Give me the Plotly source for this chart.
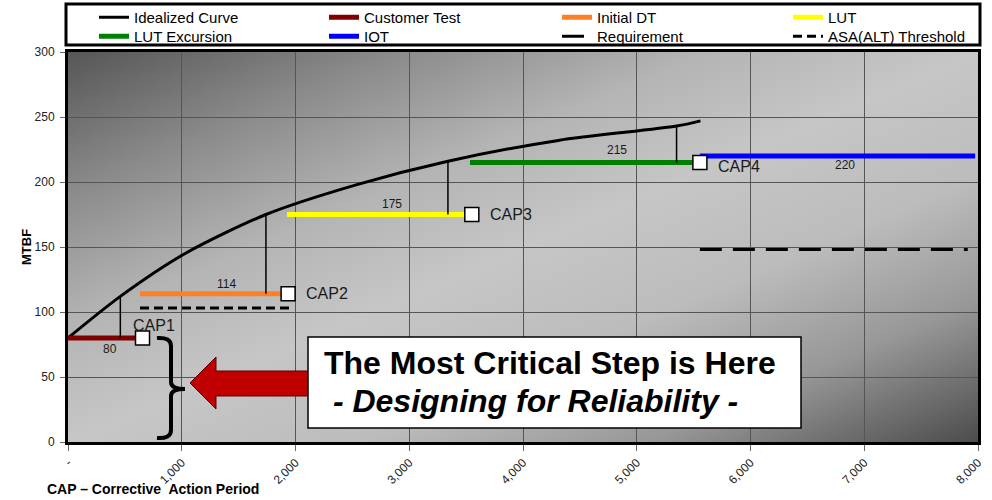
import base64
import plotly.graph_objects as go

# ---------------- data ----------------
curve_x = [0, 460, 1030, 1740, 2540, 3340, 4310, 5350, 5560]
curve_y = [80, 112, 145, 175, 198, 216, 232, 243, 247]

phase_names = ["Customer Test", "Initial DT", "LUT", "LUT Excursion", "IOT"]
phase_start = [0, 633, 1925, 3534, 5555]
phase_end = [655, 1935, 3550, 5555, 7975]
phase_mtbf = [80, 114, 175, 215, 220]
phase_colors = ["#7F0000", "#FF7F27", "#FFFF00", "#008000", "#0000FF"]
value_label_x = [366, 1390, 2845, 4826, 6830]

requirement_x = [5555, 7910]
requirement_y = [148, 148]
threshold_x = [633, 1950]
threshold_y = [103, 103]

cap_names = ["CAP1", "CAP2", "CAP3", "CAP4"]
cap_x = [655, 1935, 3550, 5555]
cap_y = [80, 114, 175, 215]

drop_x = [460, 1740, 3340, 5350]
drop_from = [80, 114, 175, 215]
drop_to = [112, 175, 216, 243]

x_ticks = [0, 1000, 2000, 3000, 4000, 5000, 6000, 7000, 8000]
x_ticktext = ["-", "1,000", "2,000", "3,000", "4,000", "5,000", "6,000", "7,000", "8,000"]
y_ticks = [0, 50, 100, 150, 200, 250, 300]

# ---------------- layout helpers (pixel -> paper) ----------------
W, H = 992, 500
PL, PR, PT, PB = 68, 978, 52, 442


def px(x):
    return (x - PL) / (PR - PL)


def py(y):
    return (PB - y) / (PB - PT)


FONT = "Arial, 'Liberation Sans', sans-serif"

# legend grid: 2 rows x 4 columns, one single-item legend per slot
LEG_COL_TEXT = [134, 364, 597, 828]
LEG_ROW_TOP = [1, 20]
legend_ids = ["legend"] + [f"legend{i}" for i in range(2, 9)]

fig = go.Figure()
slot = iter(legend_ids)

# Idealized curve
fig.add_trace(go.Scatter(x=curve_x, y=curve_y, mode="lines", name="Idealized Curve",
                         line=dict(color="black", width=3, shape="spline", smoothing=0.8),
                         hoverinfo="skip", legend=next(slot)))

# phase segments
for n, s, e, m, c in zip(phase_names, phase_start, phase_end, phase_mtbf, phase_colors):
    fig.add_trace(go.Scatter(x=[s, e], y=[m, m], mode="lines", name=n,
                             line=dict(color=c, width=5), hoverinfo="skip",
                             legend=next(slot)))

fig.add_trace(go.Scatter(x=requirement_x, y=requirement_y, mode="lines", name="Requirement",
                         line=dict(color="black", width=3, dash="22px,11px"), hoverinfo="skip",
                         legend=next(slot)))
fig.add_trace(go.Scatter(x=threshold_x, y=threshold_y, mode="lines", name="ASA(ALT) Threshold",
                         line=dict(color="black", width=3, dash="9px,5px"), hoverinfo="skip",
                         legend=next(slot)))

# drop lines
dx, dy = [], []
for x, a, b in zip(drop_x, drop_from, drop_to):
    dx += [x, x, None]
    dy += [a, b, None]
fig.add_trace(go.Scatter(x=dx, y=dy, mode="lines", showlegend=False,
                         line=dict(color="black", width=1.5), hoverinfo="skip"))

# CAP markers
fig.add_trace(go.Scatter(x=cap_x, y=cap_y, mode="markers", showlegend=False,
                         marker=dict(symbol="square", size=14, color="white",
                                     line=dict(color="black", width=1.5)),
                         hoverinfo="skip"))

annotations = []
# CAP labels
cap_shift = [(11, 13, "center"), (16, 0, "left"), (16, 0, "left"), (16, -4, "left")]
for n, x, y, (xs, ys, xa) in zip(cap_names, cap_x, cap_y, cap_shift):
    annotations.append(dict(x=x, y=y, xref="x", yref="y", text=n, showarrow=False,
                            xanchor=xa, yanchor="middle", xshift=xs, yshift=ys,
                            font=dict(family=FONT, size=16, color="#1a1a1a")))
# value labels
val_shift = [-11, 10, 11, 13, -9]
for x, m, ys in zip(value_label_x, phase_mtbf, val_shift):
    annotations.append(dict(x=x, y=m, xref="x", yref="y", text=str(m), showarrow=False,
                            xanchor="center", yanchor="middle", yshift=ys,
                            font=dict(family=FONT, size=12, color="#1a1a1a")))

# callout text
annotations.append(dict(x=px(322), y=py(363), xref="paper", yref="paper",
                        text="The Most Critical Step is Here", showarrow=False,
                        xanchor="left", yanchor="middle",
                        font=dict(family=FONT, size=32, color="black", weight="bold")))
annotations.append(dict(x=px(322), y=py(401), xref="paper", yref="paper",
                        text="\u00a0<i>- Designing for Reliability -</i>", showarrow=False,
                        xanchor="left", yanchor="middle",
                        font=dict(family=FONT, size=32, color="black", weight="bold")))
# axis titles
annotations.append(dict(x=px(26), y=py(247), xref="paper", yref="paper", text="MTBF",
                        textangle=-90, showarrow=False, xanchor="center", yanchor="middle",
                        font=dict(family=FONT, size=13, color="black", weight="bold")))
annotations.append(dict(x=px(45), y=py(489), xref="paper", yref="paper",
                        text="CAP \u2013 Corrective\u00a0 Action Period", showarrow=False,
                        xanchor="left", yanchor="middle",
                        font=dict(family=FONT, size=14, color="black", weight="bold")))


def path(points, close=False):
    s = "M " + " L ".join(f"{px(a):.5f},{py(b):.5f}" for a, b in points)
    return s + (" Z" if close else "")


def q(p0, c, p1):
    return (f"M {px(p0[0]):.5f},{py(p0[1]):.5f} Q {px(c[0]):.5f},{py(c[1]):.5f} "
            f"{px(p1[0]):.5f},{py(p1[1]):.5f}")


shapes = []
# legend frame
shapes.append(dict(type="rect", xref="paper", yref="paper", x0=px(66), x1=px(980),
                   y0=py(45), y1=py(4), fillcolor="white", line=dict(color="black", width=3),
                   layer="above"))
# bracket
br = " ".join([
    q((157, 338), (171, 337), (171, 346)),
    f"L {px(171):.5f},{py(382):.5f}",
    f"Q {px(171):.5f},{py(389):.5f} {px(185):.5f},{py(389):.5f}",
    q((185, 389), (171, 389), (171, 396)),
    f"L {px(171):.5f},{py(430):.5f}",
    f"Q {px(171):.5f},{py(439):.5f} {px(157):.5f},{py(438):.5f}",
])
shapes.append(dict(type="path", xref="paper", yref="paper", path=br,
                   line=dict(color="black", width=4)))
# arrow
arrow = path([(190, 383), (216, 357), (216, 371), (312, 371), (312, 396),
              (216, 396), (216, 409)], close=True)
shapes.append(dict(type="path", xref="paper", yref="paper", path=arrow,
                   fillcolor="#C00000", line=dict(color="#5a0000", width=1)))
# callout box
shapes.append(dict(type="rect", xref="paper", yref="paper", x0=px(308), x1=px(801),
                   y0=py(428), y1=py(337), fillcolor="white",
                   line=dict(color="black", width=1.5)))

# gradient background image
svg = ("<svg xmlns='http://www.w3.org/2000/svg' width='100' height='100' viewBox='0 0 100 100' "
       "preserveAspectRatio='none'><defs><linearGradient id='g' x1='0' y1='0' x2='1' y2='1'>"
       "<stop offset='0' stop-color='#565656'/>"
       "<stop offset='0.18' stop-color='#8a8a8a'/>"
       "<stop offset='0.35' stop-color='#b4b4b4'/>"
       "<stop offset='0.5' stop-color='#c6c6c6'/>"
       "<stop offset='0.66' stop-color='#bcbcbc'/>"
       "<stop offset='0.82' stop-color='#979797'/>"
       "<stop offset='1' stop-color='#4c4c4c'/>"
       "</linearGradient></defs><rect width='100' height='100' fill='url(#g)'/></svg>")
src = "data:image/svg+xml;base64," + base64.b64encode(svg.encode()).decode()

legends = {}
for i, lid in enumerate(legend_ids):
    r, c = divmod(i, 4)
    legends[lid] = dict(orientation="h", x=px(LEG_COL_TEXT[c] - 40), xanchor="left",
                        y=py(LEG_ROW_TOP[r]), yanchor="top", bgcolor="rgba(0,0,0,0)",
                        borderwidth=0, font=dict(family=FONT, size=15, color="black"))

fig.update_layout(
    width=W, height=H,
    margin=dict(l=PL, r=W - PR, t=PT, b=H - PB, autoexpand=False),
    paper_bgcolor="white",
    plot_bgcolor="rgba(0,0,0,0)",
    font=dict(family=FONT, color="#222"),
    images=[dict(source=src, xref="paper", yref="paper", x=0, y=1, sizex=1, sizey=1,
                 xanchor="left", yanchor="top", sizing="stretch", layer="below")],
    shapes=shapes,
    annotations=annotations,
    showlegend=True,
    xaxis=dict(range=[0, 8000], tickvals=x_ticks, ticktext=x_ticktext, tickangle=-45,
               showgrid=True, gridcolor="#555555", gridwidth=1, zeroline=False,
               showline=True, linecolor="black", linewidth=3, mirror=True,
               ticks="outside", ticklen=6, tickcolor="#666",
               tickfont=dict(family=FONT, size=12, color="#222"), fixedrange=True),
    yaxis=dict(range=[0, 300], tickvals=y_ticks, showgrid=True, gridcolor="#555555",
               gridwidth=1, zeroline=False, showline=True, linecolor="black", linewidth=3,
               mirror=True, ticks="outside", ticklen=5, tickcolor="#666",
               ticklabelstandoff=3,
               tickfont=dict(family=FONT, size=12, color="#222"), fixedrange=True),
    **legends,
)

fig.write_html("out.html", config={"displayModeBar": False},
               post_script="document.body.style.margin='0';")
